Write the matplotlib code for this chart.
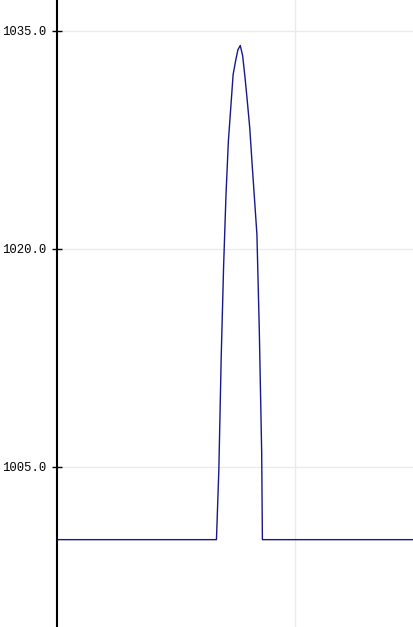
import matplotlib
matplotlib.use('Agg')
import matplotlib.pyplot as plt

# readings (sample index, value)
x = [0, 67, 68, 69, 70, 71, 72, 73, 74, 75, 76, 77, 78, 79, 80,
     81, 82, 83, 84, 85, 86, 86.3, 150]
vals = [1000.0, 1000.0, 1004.8, 1012.6, 1018.8, 1023.7, 1027.4, 1029.7,
        1032.0, 1032.9, 1033.7, 1034.0, 1033.3, 1031.8, 1030.1, 1028.3,
        1025.8, 1023.4, 1021.0, 1014.4, 1006.0, 1000.0, 1000.0]
yticks = [1005.0, 1020.0, 1035.0]
xgrid = [100]

fig = plt.figure(figsize=(4.14, 6.27), dpi=100)
ax = fig.add_axes([57 / 414, 0, 1 - 57 / 414, 1])

ax.plot(x, vals, color='#18188c', lw=1.0)

ax.set_xlim(0, 150)
ax.set_ylim(993.99, 1037.13)

ax.set_yticks(yticks)
ax.set_yticklabels(['%.1f' % v for v in yticks],
                   family='Liberation Mono', fontsize=8.8)
ax.set_xticks(xgrid)
ax.set_xticklabels([])
ax.tick_params(axis='x', length=0)
ax.tick_params(axis='y', direction='inout', length=7, width=1, pad=4)

ax.grid(True, color='#ebebeb', lw=1)
ax.set_axisbelow(True)

for s in ['top', 'right', 'bottom']:
    ax.spines[s].set_visible(False)
ax.spines['left'].set_linewidth(1.5)

fig.savefig('out.png', dpi=100)
